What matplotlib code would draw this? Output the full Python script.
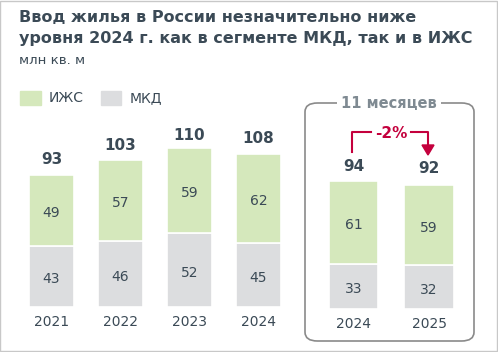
import numpy as np
import matplotlib.pyplot as plt
from matplotlib.patches import FancyBboxPatch, Rectangle

# данные
years = ["2021", "2022", "2023", "2024"]
izhs = [49, 57, 59, 62]
mkd = [43, 46, 52, 45]
totals = [93, 103, 110, 108]

years_11m = ["2024", "2025"]
izhs_11m = [61, 59]
mkd_11m = [33, 32]
totals_11m = [94, 92]

green = "#d5e8bc"
grey = "#dcdddf"
dark = "#3b4a56"
red = "#c4003d"

W, H = 498, 352
fig = plt.figure(figsize=(W / 100, H / 100), dpi=100)


def fx(x):
    return x / W


def fy(y):
    return 1 - y / H


def bars(ax, labels, top, bottom, tot, width):
    x = np.arange(len(labels))
    ax.bar(x, bottom, width, color=grey, edgecolor="white", linewidth=1.2)
    ax.bar(x, top, width, bottom=bottom, color=green, edgecolor="white", linewidth=1.2)
    for i in range(len(x)):
        ax.annotate(str(bottom[i]), (x[i], bottom[i] / 2), xytext=(0, -2),
                    textcoords="offset points", ha="center", va="center",
                    fontsize=10, color=dark)
        ax.annotate(str(top[i]), (x[i], bottom[i] + top[i] / 2), xytext=(0, -2),
                    textcoords="offset points", ha="center", va="center",
                    fontsize=10, color=dark)
        ax.annotate(str(tot[i]), (x[i], tot[i]), xytext=(0, 5), textcoords="offset points",
                    ha="center", va="bottom", fontsize=11, fontweight="bold", color=dark)
    ax.set_xticks(x)
    ax.set_xticklabels(labels, fontsize=10, color=dark)
    ax.tick_params(axis="x", length=0, pad=6)
    ax.set_yticks([])
    for s in ax.spines.values():
        s.set_visible(False)
    ax.patch.set_visible(False)


# левая часть: годы
ax1 = fig.add_axes([fx(17), 45 / H, 276 / W, 207 / H])
bars(ax1, years, izhs, mkd, totals, 0.65)
ax1.set_xlim(-0.5, 3.5)
ax1.set_ylim(0, 207 / 1.43)

# правая часть: 11 месяцев
ax2 = fig.add_axes([fx(315.75), 43 / H, 151 / W, 180 / H])
bars(ax2, years_11m, izhs_11m, mkd_11m, totals_11m, 0.65)
ax2.set_xlim(-0.5, 1.5)
ax2.set_ylim(0, 180 / 1.365)

# рамка вокруг рисунка
fig.patches.append(Rectangle((0.001, 0.002), 0.997, 0.995, transform=fig.transFigure,
                             fill=False, edgecolor="#c8c8c8", linewidth=1))

# рамка "11 месяцев"
fig.patches.append(FancyBboxPatch((fx(305), fy(341)), fx(474) - fx(305), fy(103) - fy(341),
                                  boxstyle="round,pad=0,rounding_size=0.025",
                                  transform=fig.transFigure, fill=False,
                                  edgecolor="#8a8a8a", linewidth=1.2))
fig.text(fx(389), fy(103), "11 месяцев", ha="center", va="center", fontsize=10.5,
         fontweight="bold", color="#7f8a92",
         bbox=dict(facecolor="white", edgecolor="none", pad=3))

# стрелка -2%
fig.add_artist(plt.Line2D([fx(352), fx(352), fx(371)], [fy(152), fy(132), fy(132)],
                          color=red, linewidth=1.5))
fig.add_artist(plt.Line2D([fx(411), fx(428), fx(428)], [fy(132), fy(132), fy(146)],
                          color=red, linewidth=1.5))
fig.add_artist(plt.Polygon([[fx(422), fy(145)], [fx(434), fy(145)], [fx(428), fy(155)]],
                           closed=True, color=red))
fig.text(fx(391), fy(133), "-2%", ha="center", va="center", fontsize=11,
         fontweight="bold", color=red)

# заголовок
fig.text(fx(19), fy(17), "Ввод жилья в России незначительно ниже", ha="left", va="center",
         fontsize=11.5, fontweight="bold", color=dark)
fig.text(fx(19), fy(39), "уровня 2024 г. как в сегменте МКД, так и в ИЖС", ha="left",
         va="center", fontsize=11.5, fontweight="bold", color=dark)
fig.text(fx(19), fy(61), "млн кв. м", ha="left", va="center", fontsize=9.5, color=dark)

# легенда
fig.patches.append(Rectangle((fx(20), fy(105)), 21 / W, 14 / H, transform=fig.transFigure,
                             color=green))
fig.text(fx(49), fy(98), "ИЖС", ha="left", va="center", fontsize=10, color=dark)
fig.patches.append(Rectangle((fx(101), fy(105)), 20 / W, 14 / H, transform=fig.transFigure,
                             color=grey))
fig.text(fx(130), fy(98), "МКД", ha="left", va="center", fontsize=10, color=dark)

fig.savefig("out.png", dpi=100)
